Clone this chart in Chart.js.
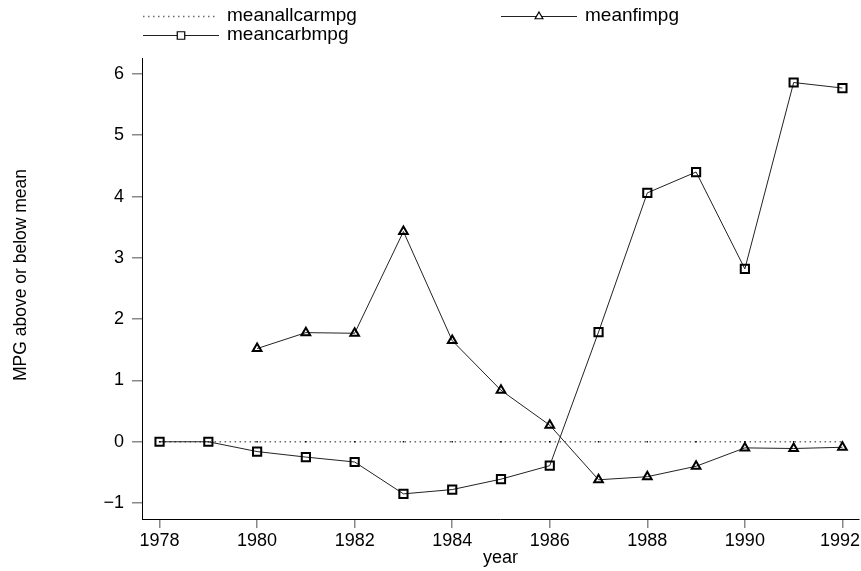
<!DOCTYPE html>
<html>
<head>
<meta charset="utf-8">
<script src="https://cdn.jsdelivr.net/npm/chart.js@4"></script>
<style>
html,body{margin:0;padding:0;background:#fff;}
#wrap{position:relative;width:861px;height:571px;}
</style>
</head>
<body>
<div id="wrap"><canvas id="c" width="861" height="571"></canvas></div>
<script>
const years = [1978,1979,1980,1981,1982,1983,1984,1985,1986,1987,1988,1989,1990,1991,1992];
const meanallcarmpg = [0,0,0,0,0,0,0,0,0,0,0,0,0,0,0];
const meancarbmpg = [0,0,-0.16,-0.25,-0.33,-0.85,-0.78,-0.61,-0.39,1.79,4.06,4.40,2.82,5.86,5.77];
const meanfimpg = [null,null,1.52,1.78,1.77,3.43,1.65,0.84,0.27,-0.62,-0.57,-0.40,-0.10,-0.11,-0.09];
const xTickLabels = [1978,1980,1982,1984,1986,1988,1990,1992];
const yTickLabels = [-1,0,1,2,3,4,5,6];
const seriesNames = ['meanallcarmpg','meancarbmpg','meanfimpg'];

const FONT = "'Liberation Sans', Arial, Helvetica, sans-serif";
const toXY = arr => years.map((y,i)=>({x:y,y:arr[i]}));

const legendPlugin = {
  id:'customLegend',
  afterDraw(chart){
    const ctx = chart.ctx;
    ctx.save();
    ctx.font = "19px " + FONT;
    ctx.fillStyle = '#000';
    ctx.textBaseline = 'middle';
    ctx.textAlign = 'left';
    const items = [
      {x0:143,x1:217,y:16,tx:227,ds:0},
      {x0:501,x1:577,y:16,tx:585,ds:2},
      {x0:143,x1:219,y:35,tx:227,ds:1}
    ];
    items.forEach(it=>{
      const ds = chart.data.datasets[it.ds];
      ctx.save();
      ctx.strokeStyle = ds.borderColor;
      ctx.lineWidth = ds.borderWidth;
      ctx.setLineDash(ds.borderDash || []);
      ctx.beginPath();
      ctx.moveTo(it.x0,it.y+0.5);ctx.lineTo(it.x1,it.y+0.5);
      ctx.stroke();
      ctx.restore();
      if (ds.pointRadius > 2) {
        ctx.save();
        ctx.fillStyle='#fff';ctx.strokeStyle='#000';ctx.lineWidth=1.2;
        ctx.beginPath();
        const cx=(it.x0+it.x1)/2, cy=it.y+0.5, r=ds.pointRadius-0.5;
        if (ds.pointStyle==='rect'){const s=r*Math.SQRT1_2;ctx.rect(cx-s,cy-s,2*s,2*s);}
        else {ctx.moveTo(cx,cy-r);ctx.lineTo(cx+r*0.866,cy+r*0.5);ctx.lineTo(cx-r*0.866,cy+r*0.5);ctx.closePath();}
        ctx.fill();ctx.stroke();
        ctx.restore();
      }
      ctx.fillStyle='#000';
      ctx.fillText(seriesNames[it.ds], it.tx, it.y);
    });
    // y axis title
    ctx.save();
    ctx.font = "17.5px " + FONT;
    ctx.translate(21, 275);
    ctx.rotate(-Math.PI/2);
    ctx.textAlign='center';
    ctx.textBaseline='middle';
    ctx.fillText('MPG above or below mean',0,0);
    ctx.restore();
    ctx.restore();
  }
};

new Chart(document.getElementById('c'), {
  type:'line',
  data:{
    datasets:[
      {label:seriesNames[0], data:toXY(meanallcarmpg), borderColor:'#6a6a6a', borderWidth:1.5, borderDash:[1.5,3.5],
       pointRadius:1, pointBorderWidth:0, pointBackgroundColor:'#000', pointStyle:'rect', order:3},
      {label:seriesNames[1], data:toXY(meancarbmpg), borderColor:'#222', borderWidth:1, pointStyle:'rect',
       pointRadius:5.8, pointBorderWidth:2, pointBorderColor:'#000', pointBackgroundColor:'rgba(0,0,0,0)', order:2},
      {label:seriesNames[2], data:toXY(meanfimpg), borderColor:'#222', borderWidth:1, pointStyle:'triangle',
       pointRadius:5, pointBorderWidth:2, pointBorderColor:'#000', pointBackgroundColor:'rgba(255,255,255,0)', order:1, spanGaps:false}
    ]
  },
  options:{
    responsive:false,
    animation:false,
    events:[],
    layout:{autoPadding:false, padding:{left:0,top:58,right:2,bottom:0}},
    plugins:{legend:{display:false},tooltip:{enabled:false},title:{display:false}},
    elements:{line:{tension:0}},
    scales:{
      x:{
        type:'linear', min:1977.64, max:1992.34,
        afterBuildTicks:s=>{s.ticks = xTickLabels.map(v=>({value:v}));},
        afterFit:s=>{s.height = 52; s.paddingLeft = 0; s.paddingRight = 0;},
        grid:{drawOnChartArea:false, drawTicks:true, tickLength:9, color:'#888', lineWidth:1.5},
        border:{display:true, color:'#000', width:1},
        ticks:{color:'#000', font:{family:FONT, size:18}, padding:2, maxRotation:0, autoSkip:false,
               callback:v=>(v===xTickLabels[xTickLabels.length-1] ? String(v)+' ' : String(v))},
        title:{display:true, text:'year', color:'#000', font:{family:FONT, size:18}, padding:{top:0,bottom:2}}
      },
      y:{
        type:'linear', min:-1.26, max:6.26,
        afterBuildTicks:s=>{s.ticks = yTickLabels.map(v=>({value:v}));},
        afterFit:s=>{s.width = 142; s.paddingTop = 0; s.paddingBottom = 0;},
        grid:{drawOnChartArea:false, drawTicks:true, tickLength:10, color:'#888', lineWidth:1.5},
        border:{display:true, color:'#000', width:1},
        ticks:{color:'#000', font:{family:FONT, size:18}, padding:8, callback:v=>(v<0?'\u2212'+Math.abs(v):String(v))},
        title:{display:false}
      }
    }
  },
  plugins:[legendPlugin]
});
</script>
</body>
</html>
